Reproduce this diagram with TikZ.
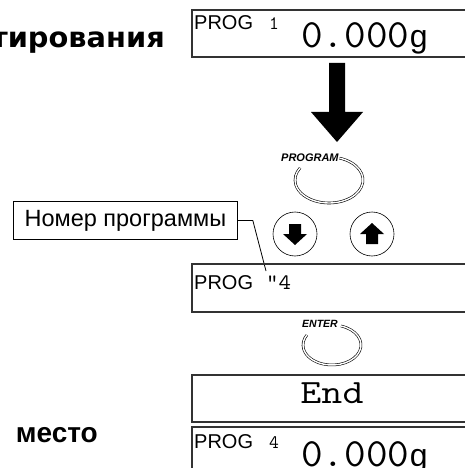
\documentclass[tikz,border=0pt]{standalone}
\usepackage{fontspec}
\usepackage{graphicx}
\setmainfont{Liberation Sans}
\newfontfamily\dejavu{DejaVu Sans}
\usetikzlibrary{calc}
\newcommand\pxsize[1]{\fontsize{#1}{#1}\selectfont}
\tikzset{
  lcdbox/.style={draw=black!80, line width=1.2pt, rectangle, inner sep=0pt, outer sep=0pt, anchor=north west, minimum width=290pt},
  txt/.style={inner sep=0pt, anchor=base west},
  ring/.style={double, double distance=1.4pt, line width=0.6pt},
  keybtn/.style={circle, draw, line width=0.6pt, minimum size=44pt, inner sep=0pt},
}
\begin{document}
\begin{tikzpicture}[x=1pt,y=-1pt]
\useasboundingbox (0,0) rectangle (465,468);
% left texts
\node[txt, anchor=base east, font=\dejavu\bfseries\pxsize{28}] (t1) at (165,48) {\scalebox{1.03}[1]{тирования}};
\node[txt, anchor=base east, font=\bfseries\pxsize{28}] (t2) at (98,442) {место};
% display 1
\node[lcdbox, minimum height=47pt] (d1) at (192,10) {};
\node[txt, font=\pxsize{20}] (p1) at (194,30) {PROG};
\node[txt, font=\ttfamily\pxsize{19}] (n1) at (269,30) {1};
\node[txt, font=\ttfamily\pxsize{40}] (w1) at (301,48) {\scalebox{1.05}[1]{0.000}};
\node[txt, font=\pxsize{32}] (g1) at (w1.base east) {g};
% big arrow
\coordinate (ba) at (337,63);
\fill ($(ba)+(-8,0)$) -- ($(ba)+(8,0)$) -- ($(ba)+(8,49)$) -- ($(ba)+(26,49)$) -- ($(ba)+(0,79)$) -- ($(ba)+(-26,49)$) -- ($(ba)+(-8,49)$) -- cycle;
% PROGRAM key
\node[txt, font=\bfseries\itshape\pxsize{11}] (lp) at (281,161) {PROGRAM};
\coordinate (rp) at (329,180);
\draw[ring] ([shift={(72:34pt and 23pt)}]rp) arc[start angle=72, end angle=-212, x radius=34pt, y radius=23pt];
% arrow keys
\node[keybtn] (bd) at (295,234) {};
\node[keybtn] (bu) at (372,234) {};
\fill ($(bd)+(-6,-10)$) -- ($(bd)+(6,-10)$) -- ($(bd)+(6,0)$) -- ($(bd)+(12,0)$) -- ($(bd)+(0,11)$) -- ($(bd)+(-12,0)$) -- ($(bd)+(-6,0)$) -- cycle;
\fill ($(bu)+(-6,10)$) -- ($(bu)+(6,10)$) -- ($(bu)+(6,0)$) -- ($(bu)+(12,0)$) -- ($(bu)+(0,-11)$) -- ($(bu)+(-12,0)$) -- ($(bu)+(-6,0)$) -- cycle;
% callout
\node[draw, line width=0.8pt, minimum width=224pt, minimum height=38pt, anchor=north west, inner sep=0pt, font=\pxsize{23.5}] (cb) at (13,201) {Номер программы};
\coordinate (lt) at (266,271);
\draw[line width=0.8pt] (cb.east) -- ++(15,0) coordinate (lk) -- (lt);
% display 2
\node[lcdbox, minimum height=48pt] (d2) at (192,264) {};
\node[txt, font=\pxsize{20}] (p2) at (194,289) {PROG};
\node[txt, font=\ttfamily\pxsize{22}] (n2) at (266,289) {\scalebox{1.1}[1]{"4}};
% ENTER key
\node[txt, font=\bfseries\itshape\pxsize{10.5}] (le) at (302,327) {ENTER};
\coordinate (re) at (332,345);
\draw[ring] ([shift={(72:29pt and 20pt)}]re) arc[start angle=72, end angle=-210, x radius=29pt, y radius=20pt];
% display 3
\node[lcdbox, minimum height=47pt] (d3) at (192,375) {};
\node[inner sep=0pt, anchor=base, font=\ttfamily\pxsize{34}] (e3) at (332,403) {\scalebox{1.2}[1]{End}};
% display 4
\node[lcdbox, minimum height=60pt] (d4) at (192,427) {};
\node[txt, font=\pxsize{20}] (p4) at (194,448) {PROG};
\node[txt, font=\ttfamily\pxsize{19}] (n4) at (269,448) {4};
\node[txt, font=\ttfamily\pxsize{40}] (w4) at (301,466) {\scalebox{1.05}[1]{0.000}};
\node[txt, font=\pxsize{32}] (g4) at (w4.base east) {g};
\end{tikzpicture}
\end{document}
